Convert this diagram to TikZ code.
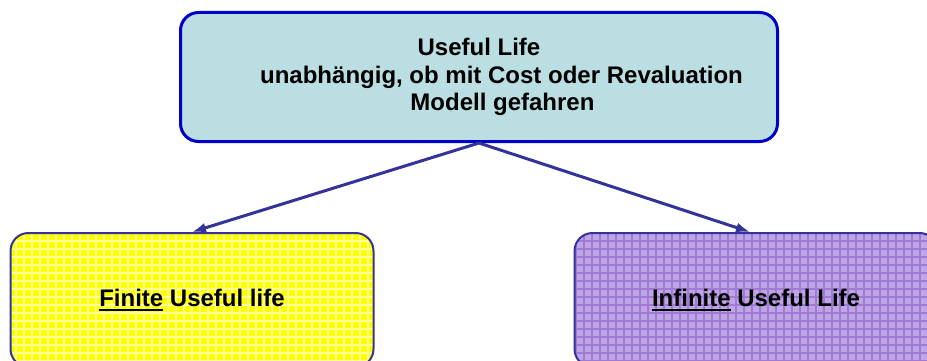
\documentclass[tikz,border=0pt]{standalone}
\usepackage{fontspec}
\setmainfont{Liberation Sans}
\usetikzlibrary{arrows.meta,patterns.meta}

\definecolor{topfill}{RGB}{186,222,226}
\definecolor{topline}{RGB}{0,0,200}
\definecolor{boxline}{RGB}{51,51,153}
\definecolor{finitefill}{RGB}{255,255,0}
\definecolor{finitegrid}{RGB}{255,255,150}
\definecolor{infinitefill}{RGB}{190,166,228}
\definecolor{infinitegrid}{RGB}{160,122,214}

\newcommand\ulword[1]{\setbox0\hbox{#1}\rlap{\rule[-5pt]{\wd0}{2.4pt}}\box0\relax}

\begin{document}
\begin{tikzpicture}[x=1pt,y=1pt,
	gridfill/.style 2 args={preaction={fill=#1},
		preaction={pattern={Lines[angle=0,distance=8pt,line width=1.2pt]},pattern color=#2},
		preaction={pattern={Lines[angle=90,distance=8pt,line width=1.2pt]},pattern color=#2}},
	lifebox/.style={draw=boxline,line width=2pt,rounded corners=18pt,minimum width=363pt,minimum height=134pt},
	lifearrow/.style={draw=boxline,line width=3pt,-{Latex[length=14pt,width=10pt]}}]
	\tikzstyle{every node}+=[inner sep=0pt,align=center,font=\bfseries\fontsize{24}{27.5}\selectfont]
	\useasboundingbox (0,0) rectangle (927,-361);
	\node [draw=topline,line width=3pt,fill=topfill,rounded corners=18pt,minimum width=597pt,minimum height=129pt] (life) at (479,-77)
		{Useful Life\\\hspace*{45pt}unabhängig, ob mit Cost oder Revaluation\\\hspace*{47pt}Modell gefahren};
	\node [lifebox,gridfill={finitefill}{finitegrid}] (finite) at (192,-300) {\ulword{Finite} Useful life};
	\node [lifebox,gridfill={infinitefill}{infinitegrid}] (infinite) at (756,-300) {\ulword{Infinite} Useful Life};
	\draw [lifearrow] (life.south) -- (finite.north);
	\draw [lifearrow] (life.south) -- ([xshift=-6pt]infinite.north);
\end{tikzpicture}
\end{document}
